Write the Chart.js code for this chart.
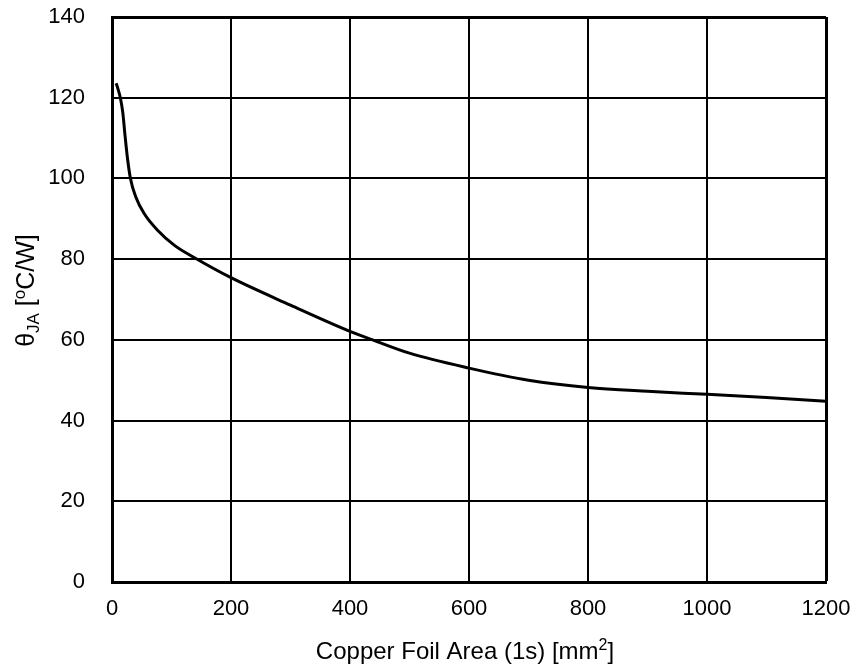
<!DOCTYPE html>
<html>
<head>
<meta charset="utf-8">
<title>Thermal resistance vs copper foil area</title>
<script src="https://cdn.jsdelivr.net/npm/chart.js@4/dist/chart.umd.min.js"></script>
<style>
  html, body { margin: 0; padding: 0; background: #fff; }
  #chart { display: block; }
</style>
</head>
<body>
<canvas id="chart" width="858" height="667"></canvas>
<script>
// Copper foil area [mm2] and theta-JA [oC/W]
var areaMm2 = [7, 10, 14, 18, 22, 26, 31, 40, 54, 77, 105, 138, 200, 300, 400, 438, 500, 600, 700, 800, 900, 1000, 1100, 1200];
var thetaJA = [123.6, 122.2, 120, 116.5, 110.5, 105, 100, 95.4, 91.3, 87.1, 83.4, 80.4, 75.4, 68.6, 62.1, 60, 56.7, 53, 50, 48.2, 47.25, 46.5, 45.7, 44.8];

var xTicks = [0, 200, 400, 600, 800, 1000, 1200];
var yTicks = [0, 20, 40, 60, 80, 100, 120, 140];

var FONT = '"Liberation Sans", Arial, sans-serif';
var TICK_SIZE = 22;
var TITLE_SIZE = 24;

// axis titles with sub/superscripts, drawn as pieces of text
var xTitle = [
  { t: 'Copper Foil Area (1s) [mm', k: 'n' },
  { t: '2', k: 'sup' },
  { t: ']', k: 'n' }
];
var yTitle = [
  { t: 'θ', k: 'n' },
  { t: 'JA', k: 'sub' },
  { t: ' [', k: 'n' },
  { t: 'o', k: 'sup' },
  { t: 'C/W]', k: 'n' }
];

function drawRich(ctx, parts, cx, cy, size) {
  var small = Math.round(size * 0.66);
  var total = 0;
  parts.forEach(function(p) {
    ctx.font = (p.k === 'n' ? size : small) + 'px ' + FONT;
    p.w = ctx.measureText(p.t).width;
    total += p.w;
  });
  var x = cx - total / 2;
  ctx.textBaseline = 'alphabetic';
  ctx.textAlign = 'left';
  parts.forEach(function(p) {
    var dy = 0;
    if (p.k === 'sup') dy = -size * 0.36;
    if (p.k === 'sub') dy = size * 0.18;
    ctx.font = (p.k === 'n' ? size : small) + 'px ' + FONT;
    ctx.fillText(p.t, x, cy + size * 0.36 + dy);
    x += p.w;
  });
}

var axisTitles = {
  id: 'axisTitles',
  afterDraw: function(chart) {
    var ctx = chart.ctx;
    var area = chart.chartArea;
    ctx.save();
    ctx.fillStyle = '#000';
    drawRich(ctx, xTitle, (area.left + area.right) / 2 - 4, 650, TITLE_SIZE);
    ctx.translate(25, (area.top + area.bottom) / 2 - 9);
    ctx.rotate(-Math.PI / 2);
    drawRich(ctx, yTitle, 0, 0, 25);
    ctx.restore();
  }
};

var points = areaMm2.map(function(a, i) {
  return { x: a, y: thetaJA[i] };
});

new Chart(document.getElementById('chart'), {
  type: 'line',
  data: {
    datasets: [{
      data: points,
      borderColor: '#000',
      borderWidth: 3,
      pointRadius: 0,
      fill: false,
      cubicInterpolationMode: 'monotone'
    }]
  },
  options: {
    responsive: false,
    animation: false,
    devicePixelRatio: 1,
    layout: { autoPadding: false, padding: { top: 17, right: 32, left: 0, bottom: 0 } },
    plugins: {
      legend: { display: false },
      tooltip: { enabled: false }
    },
    scales: {
      x: {
        type: 'linear',
        min: 0,
        max: 1200,
        afterBuildTicks: function(scale) {
          scale.ticks = xTicks.map(function(v) { return { value: v }; });
        },
        afterFit: function(scale) {
          scale.height = 85;
          scale.paddingLeft = 0;
          scale.paddingRight = 0;
        },
        ticks: {
          color: '#000',
          padding: 14,
          maxRotation: 0,
          font: { family: FONT, size: TICK_SIZE },
          callback: function(v) { return String(v); }
        },
        grid: {
          color: '#000',
          drawTicks: false,
          lineWidth: function(c) { return c.tick && c.tick.value === 1200 ? 3 : 2; }
        },
        border: { display: true, color: '#000', width: 3 }
      },
      y: {
        min: 0,
        max: 140,
        afterBuildTicks: function(scale) {
          scale.ticks = yTicks.map(function(v) { return { value: v }; });
        },
        afterFit: function(scale) {
          scale.width = 112;
          scale.paddingTop = 0;
          scale.paddingBottom = 0;
        },
        ticks: {
          color: '#000',
          padding: 27,
          font: { family: FONT, size: TICK_SIZE },
          callback: function(v) { return String(v); }
        },
        grid: {
          color: '#000',
          drawTicks: false,
          lineWidth: function(c) { return c.tick && c.tick.value === 140 ? 3 : 2; }
        },
        border: { display: true, color: '#000', width: 3 }
      }
    }
  },
  plugins: [axisTitles]
});
</script>
</body>
</html>
